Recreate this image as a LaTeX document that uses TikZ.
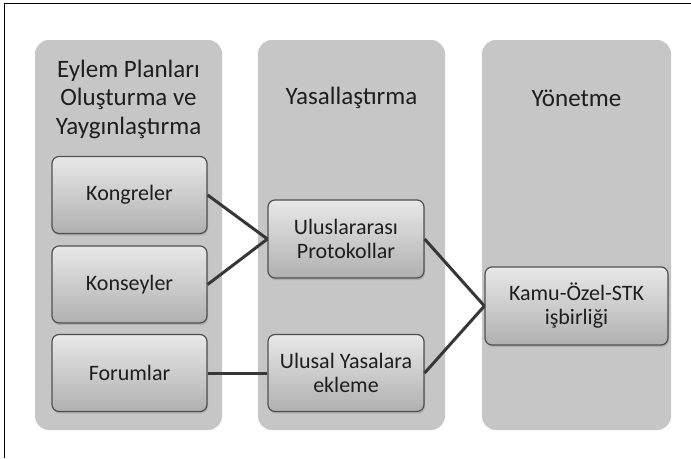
\documentclass[tikz,border=0pt]{standalone}
\usepackage{fontspec}
\setmainfont{Carlito}
\usetikzlibrary{shadows}
\definecolor{colfill}{RGB}{198,198,198}
\definecolor{boxtop}{RGB}{232,232,232}
\definecolor{boxbot}{RGB}{176,176,176}
\definecolor{boxline}{RGB}{80,80,80}
\definecolor{connclr}{RGB}{55,55,55}
\definecolor{txt}{RGB}{30,30,30}
\begin{document}
\begin{tikzpicture}[x=1pt,y=-1pt,
  column/.style={fill=colfill, rounded corners=14pt},
  coltitle/.style={text=txt, font=\fontsize{25}{28.5}\selectfont, align=center, inner sep=0pt},
  itembox/.style={draw=boxline, line width=1.2pt, rounded corners=7pt,
    top color=boxtop, bottom color=boxbot, text=txt,
    font=\fontsize{22}{24}\selectfont, align=center, inner sep=0pt,
    minimum width=155pt, minimum height=77pt,
    drop shadow={shadow xshift=1pt, shadow yshift=-2pt, opacity=0.35}},
  conn/.style={draw=connclr, line width=3pt}
]
\fill[white] (0,0) rectangle (691,458);
\useasboundingbox (0,0) rectangle (691,458);
\draw[line width=1.3pt] (4.5,458) -- (4.5,3.5) -- (691,3.5);

% columns
\fill[column] (35,40) rectangle (222,430);
\fill[column] (258,40) rectangle (445,430);
\fill[column] (482,40) rectangle (671,430);

% titles
\node[coltitle] (t1) at (128.5,99) {Eylem Planları\\Oluşturma ve\\Yaygınlaştırma};
\node[coltitle] (t2) at (351.5,98) {Yasallaştırma};
\node[coltitle] (t3) at (576.5,98) {Yönetme};

% boxes
\node[itembox] (kong) at (129.5,195) {Kongreler};
\node[itembox] (kons) at (129.5,284.5) {Konseyler};
\node[itembox] (foru) at (129.5,373) {Forumlar};
\node[itembox, minimum width=156pt, minimum height=78pt] (ulus) at (346,239) {Uluslararası\\Protokollar};
\node[itembox, minimum width=156pt] (yasa) at (346,373) {Ulusal Yasalara\\ekleme};
\node[itembox, minimum width=183pt, minimum height=78pt] (kamu) at (576.5,306) {Kamu-Özel-STK\\işbirliği};

% connectors
\draw[conn] (kong.east) -- (ulus.west);
\draw[conn] (kons.east) -- (ulus.west);
\draw[conn] (foru.east) -- (yasa.west);
\draw[conn] (ulus.east) -- (kamu.west);
\draw[conn] (yasa.east) -- (kamu.west);
\end{tikzpicture}
\end{document}
